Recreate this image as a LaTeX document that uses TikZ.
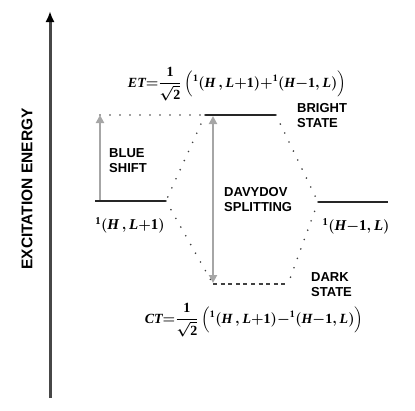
\documentclass[tikz,border=0pt]{standalone}
\usepackage{amsmath}
\usepackage{fontspec}
\setsansfont{Liberation Sans}
\newfontfamily\eqfont{Liberation Serif}
\newcommand{\ev}[1]{\text{\eqfont\bfseries\itshape #1}}
\newcommand{\en}[1]{\text{\eqfont\bfseries #1}}
\usetikzlibrary{arrows.meta}
\tikzset{
  level/.style    ={line width=2.2pt, draw=black!85},
  darklevel/.style={line width=1.8pt, draw=black!75, dash pattern=on 4pt off 3.6pt},
  corr/.style     ={line width=1.8pt, draw=black!75, line cap=round, dash pattern=on 0pt off 10pt},
  gapArrow/.style ={line width=2.4pt, draw=black!35,
                    {Triangle[length=8pt,width=8pt,color=black!35]}-{Triangle[length=8pt,width=8pt,color=black!35]}},
  shiftArrow/.style={line width=2.4pt, draw=black!35, -{Triangle[length=8pt,width=8pt,color=black!35]}},
  axisArrow/.style={line width=3pt, draw=black!72, -{Latex[length=11pt,width=9pt,color=black]}},
  lbl/.style      ={font=\sffamily\bfseries\fontsize{13}{15.5}\selectfont, align=left, inner sep=0pt, anchor=north west},
  statelbl/.style ={font=\boldmath\fontsize{15}{17}\selectfont, inner sep=0pt},
  eqlbl/.style    ={font=\boldmath\fontsize{14}{16}\selectfont, inner sep=0pt},
}

\begin{document}
\begin{tikzpicture}[x=1pt, y=-1pt]
  \useasboundingbox (0,0) rectangle (415,410);
  % energy axis
  \coordinate (ax0) at (50,398);
  \coordinate (ax1) at (50,11);
  \draw[axisArrow] (ax0) -- (ax1);
  \node[rotate=90, font=\sffamily\bfseries\fontsize{15.5}{17}\selectfont, inner sep=0pt] (ylab) at (27,189) {EXCITATION ENERGY};

  % levels
  \coordinate (lh0) at (95,201);
  \coordinate (lh1) at (166,201);
  \coordinate (br0) at (205,115);
  \coordinate (br1) at (276,115);
  \coordinate (rh0) at (318,202);
  \coordinate (rh1) at (388,202);
  \coordinate (dk0) at (213,284);
  \coordinate (dk1) at (288,284);
  \coordinate (bs0) at (100,115);
  \coordinate (bs1) at (100,200);
  \coordinate (dv0) at (213,116);
  \coordinate (dv1) at (213,283);
  \draw[level] (lh0) -- (lh1);
  \draw[level] (br0) -- (br1);
  \draw[level] (rh0) -- (rh1);
  \draw[darklevel] (dk0) -- (dk1);

  % correlation lines
  \draw[corr] (bs0) -- (br0);
  \draw[corr] (br0) -- (lh1);
  \draw[corr] (lh1) -- (dk0);
  \draw[corr] (br1) -- (rh0);
  \draw[corr] (rh0) -- (dk1);

  % shifts
  \draw[shiftArrow] (bs1) -- (bs0);
  \draw[gapArrow] (dv0) -- (dv1);

  % labels
  \node[lbl] (blue) at (109,148) {BLUE\\SHIFT};
  \node[lbl] (davy) at (224,187) {DAVYDOV\\SPLITTING};
  \node[lbl] (brgt) at (297,103) {BRIGHT\\STATE};
  \node[lbl] (dark) at (311,272) {DARK\\STATE};
  \node[statelbl] (lhlab) at (130,225) {${}^{\en{1}}(\ev{H}\,,\ev{L}{+}\en{1})$};
  \node[statelbl] (rhlab) at (356,226) {${}^{\en{1}}(\ev{H}{-}\en{1},\ev{L})$};
  \node[eqlbl] (et) at (237,84) {$\ev{ET}{=}\dfrac{\en{1}}{\sqrt{\en{2}}}\,\Bigl({}^{\en{1}}(\ev{H}\,,\ev{L}{+}\en{1}){+}{}^{\en{1}}(\ev{H}{-}\en{1},\ev{L})\Bigr)$};
  \node[eqlbl] (ct) at (254,320) {$\ev{CT}{=}\dfrac{\en{1}}{\sqrt{\en{2}}}\,\Bigl({}^{\en{1}}(\ev{H}\,,\ev{L}{+}\en{1}){-}{}^{\en{1}}(\ev{H}{-}\en{1},\ev{L})\Bigr)$};
\end{tikzpicture}
\end{document}
